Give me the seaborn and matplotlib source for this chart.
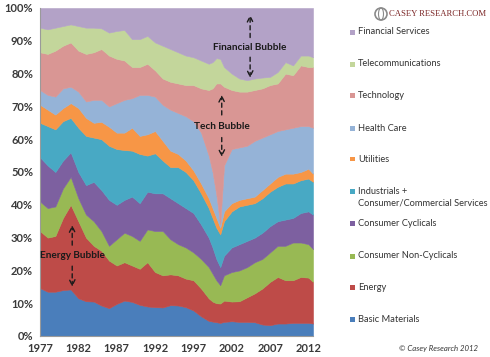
import numpy as np
import matplotlib.pyplot as plt
import seaborn as sns
from matplotlib.patches import Rectangle, Ellipse

# sector weights (% of index)
years = [1977, 1978, 1979, 1980, 1981, 1982, 1983, 1984, 1985, 1986, 1987, 1988,
         1989, 1990, 1991, 1992, 1993, 1994, 1995, 1996, 1997, 1998, 1999, 1999.5,
         2000, 2000.5, 2001, 2002, 2003, 2004, 2005, 2006, 2007, 2008, 2009, 2010,
         2011, 2012, 2012.6]

basic_materials = [14.6, 13.5, 13.5, 14.0, 14.2, 11.5, 10.6, 10.5, 9.3, 8.5, 9.8, 10.8,
                   10.4, 9.5, 9.0, 8.8, 8.7, 9.4, 9.3, 8.8, 7.8, 6.0, 4.6, 4.4,
                   4.2, 4.0, 4.3, 4.5, 4.3, 4.3, 4.2, 3.5, 3.3, 3.8, 3.8, 4.0,
                   4.0, 4.0, 3.8]
energy = [17.4, 16.5, 17.0, 22.0, 25.8, 23.5, 19.4, 17.0, 16.7, 14.5, 11.7, 11.7,
          11.1, 11.0, 13.5, 10.7, 9.8, 9.4, 9.2, 8.7, 9.2, 8.5, 6.9, 6.1,
          5.8, 5.9, 6.5, 6.0, 6.3, 7.5, 8.8, 11.0, 13.2, 14.2, 13.2, 13.0,
          14.0, 13.8, 12.7]
non_cyclicals = [9.0, 9.0, 9.0, 9.0, 8.5, 7.0, 7.0, 7.5, 6.0, 4.5, 8.0, 9.0,
                 9.0, 8.5, 10.0, 12.5, 13.5, 10.7, 9.5, 9.5, 8.5, 9.0, 9.5, 8.5,
                 7.0, 5.6, 7.7, 9.0, 9.4, 9.2, 9.5, 9.0, 9.0, 9.5, 10.5, 11.5,
                 10.5, 10.2, 10.0]
cyclicals = [13.5, 13.0, 10.5, 8.5, 7.5, 8.0, 9.0, 12.0, 12.5, 14.0, 10.5, 10.0,
             12.0, 11.5, 11.5, 11.5, 11.5, 12.5, 12.5, 12.0, 12.0, 10.5, 9.0, 8.0,
             6.5, 5.5, 6.0, 7.5, 8.0, 8.0, 7.5, 8.0, 8.0, 7.5, 8.0, 7.5,
             9.0, 10.0, 10.5]
industrials = [10.5, 12.0, 13.0, 12.0, 10.5, 13.5, 15.0, 13.5, 15.5, 16.5, 17.0, 15.2,
               14.0, 15.0, 11.0, 12.2, 10.0, 9.5, 11.0, 11.0, 10.0, 9.5, 9.0, 9.0,
               9.5, 10.0, 10.5, 11.0, 11.5, 11.0, 10.5, 10.5, 10.5, 10.5, 11.0, 10.5,
               10.0, 10.0, 10.0]
utilities = [5.5, 5.0, 4.5, 4.0, 4.5, 6.0, 5.5, 4.5, 5.3, 5.8, 5.0, 5.3,
             7.0, 5.5, 6.5, 6.8, 6.0, 5.0, 4.0, 3.5, 3.0, 3.0, 3.0, 3.0,
             3.0, 2.0, 3.0, 2.5, 2.0, 2.0, 2.0, 2.5, 2.5, 3.0, 3.0, 3.0,
             2.5, 3.0, 2.5]
health_care = [4.5, 4.5, 5.5, 6.0, 5.0, 5.0, 5.0, 7.0, 6.7, 6.2, 9.0, 10.0,
               9.0, 12.5, 12.0, 10.5, 11.0, 12.5, 12.5, 13.5, 15.0, 15.5, 13.0, 11.0,
               7.0, 1.0, 14.0, 16.5, 16.0, 16.0, 17.0, 16.0, 15.0, 14.0, 13.5, 14.0,
               14.0, 13.0, 14.0]
technology = [11.5, 12.5, 14.0, 13.0, 13.5, 12.5, 14.5, 14.5, 15.5, 15.5, 13.5, 12.0,
              9.5, 8.5, 9.5, 8.0, 8.0, 8.5, 9.0, 9.5, 11.0, 13.5, 20.0, 25.5,
              34.0, 43.0, 24.0, 18.0, 17.0, 16.5, 15.5, 15.0, 15.0, 14.5, 17.0, 16.0,
              18.5, 18.0, 18.5]
telecom = [7.5, 7.5, 7.0, 6.0, 5.5, 7.5, 8.0, 7.5, 6.3, 7.0, 8.5, 9.3,
           8.5, 8.5, 8.5, 8.5, 10.0, 10.0, 9.5, 9.0, 8.5, 8.5, 8.0, 8.0,
           7.7, 7.5, 6.0, 5.0, 4.0, 3.5, 3.5, 3.3, 2.5, 3.5, 3.5, 3.0,
           3.0, 3.5, 3.0]
financials = [6.0, 6.5, 6.0, 5.5, 5.0, 5.5, 6.0, 6.0, 6.2, 7.5, 7.0, 6.7,
              9.5, 9.5, 8.5, 10.5, 11.5, 12.5, 13.5, 14.5, 15.0, 16.0, 17.0, 16.5,
              15.3, 15.5, 18.0, 20.0, 21.5, 22.0, 21.5, 21.2, 21.0, 19.5, 16.5, 17.5,
              14.5, 14.5, 15.0]

labels = ['Basic Materials', 'Energy', 'Consumer Non-Cyclicals', 'Consumer Cyclicals',
          'Industrials +\nConsumer/Commercial Services', 'Utilities', 'Health Care',
          'Technology', 'Telecommunications', 'Financial Services']
colors = ['#4a7ebb', '#be4b48', '#98b954', '#7d60a0', '#48a9c4', '#f79646',
          '#95b3d7', '#d99694', '#c3d69b', '#b3a2c7']

series = np.array([basic_materials, energy, non_cyclicals, cyclicals, industrials,
                   utilities, health_care, technology, telecom, financials])
series = series / series.sum(axis=0) * 100

sns.set_style("white")
plt.rcParams['font.family'] = ['Lato', 'DejaVu Sans']

fig = plt.figure(figsize=(4.9, 3.57), dpi=100)
ax = fig.add_axes([40 / 490, 21 / 357, 273 / 490, 328 / 357])

polys = ax.stackplot(years, *series, colors=colors, linewidth=0)
for p, c in zip(polys, colors):
    p.set_edgecolor(c)
    p.set_linewidth(0.4)

ax.set_xlim(1977, 2012.6)
ax.set_ylim(0, 100)
ax.set_xticks(range(1977, 2013, 5))
ax.set_yticks(range(0, 101, 10))
ax.set_yticklabels([f'{v}%' for v in range(0, 101, 10)])
ax.tick_params(axis='both', length=3, width=0.8, color='#9a9a9a', direction='out',
               labelsize=8, labelcolor='#3a3a3a', pad=2)
for t in ax.get_xticklabels() + ax.get_yticklabels():
    t.set_fontweight('bold')
sns.despine(ax=ax)
for s in ['left', 'bottom']:
    ax.spines[s].set_color('#9a9a9a')
    ax.spines[s].set_linewidth(0.8)

# bubble annotations
def bubble(x, y_text, up, down, text):
    ax.text(x, y_text, text, ha='center', va='center', fontsize=7.2,
            fontweight='bold', color='#1a1a1a')
    for tail, head in (up, down):
        ax.annotate('', xy=(x, head), xytext=(x, tail),
                    arrowprops=dict(arrowstyle='->', linestyle=(0, (3, 2.5)),
                                    lw=1.0, color='#1a1a1a', shrinkA=0, shrinkB=0))

bubble(2004.4, 88.1, (91.0, 97.9), (85.0, 78.7), 'Financial Bubble')
bubble(2000.7, 64.0, (67.4, 73.5), (60.5, 54.6), 'Tech Bubble')
bubble(1981.2, 24.4, (27.7, 33.8), (21.3, 15.0), 'Energy Bubble')

# legend drawn on the right, top entry first
legend_y = [319, 287, 256, 223, 192, 159, 128, 96, 64, 32]
for lab, c, yp in zip(labels, colors, legend_y):
    fy = 1 - yp / 357
    fig.add_artist(Rectangle((350 / 490, fy - 2.5 / 357), 5 / 490, 5 / 357,
                             transform=fig.transFigure, facecolor=c, edgecolor='none'))
    if '\n' in lab:
        fig.text(358 / 490, fy + 5 / 357, lab, ha='left', va='top', fontsize=6.7,
                 color='#333333', linespacing=1.4)
    else:
        fig.text(358 / 490, fy, lab, ha='left', va='center', fontsize=6.7,
                 color='#333333')

# logo and copyright
fig.add_artist(Ellipse((381 / 490, 1 - 14 / 357), 12 / 490, 12 / 357,
                       transform=fig.transFigure, facecolor='none',
                       edgecolor='#8a8a8a', lw=1.2))
fig.add_artist(Ellipse((381 / 490, 1 - 14 / 357), 5 / 490, 12 / 357,
                       transform=fig.transFigure, facecolor='none',
                       edgecolor='#8a8a8a', lw=0.8))
fig.text(389 / 490, 1 - 14 / 357, 'CASEY RESEARCH.COM', ha='left', va='center',
         fontsize=6.2, color='#7b2626', family=['Liberation Serif', 'DejaVu Serif'])
fig.text(478 / 490, 1 - 348 / 357, '\u00a9 Casey Research 2012', ha='right',
         va='center', fontsize=5.6, style='italic', color='#333333')

fig.savefig('out.png', dpi=100, facecolor='white')
